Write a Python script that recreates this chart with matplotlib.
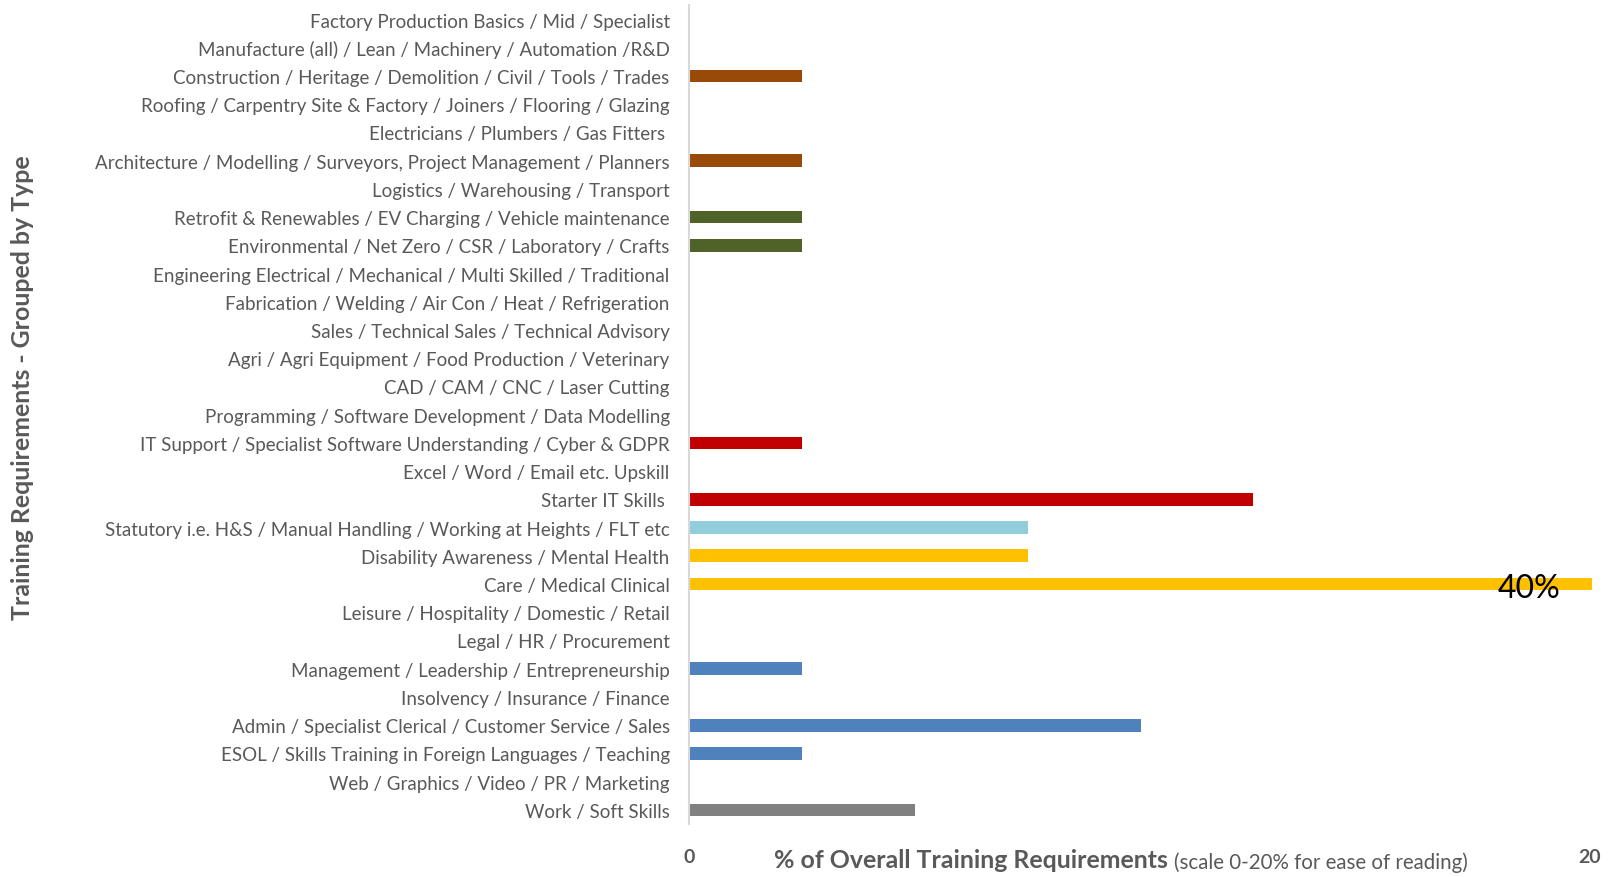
import matplotlib
matplotlib.use("Agg")
import matplotlib.pyplot as plt

categories = [
    "Factory Production Basics / Mid / Specialist",
    "Manufacture (all) / Lean / Machinery / Automation /R&D",
    "Construction / Heritage / Demolition / Civil / Tools / Trades",
    "Roofing / Carpentry Site & Factory / Joiners / Flooring / Glazing",
    "Electricians / Plumbers / Gas Fitters ",
    "Architecture / Modelling / Surveyors, Project Management / Planners",
    "Logistics / Warehousing / Transport",
    "Retrofit & Renewables / EV Charging / Vehicle maintenance",
    "Environmental / Net Zero / CSR / Laboratory / Crafts",
    "Engineering Electrical / Mechanical / Multi Skilled / Traditional",
    "Fabrication / Welding / Air Con / Heat / Refrigeration",
    "Sales / Technical Sales / Technical Advisory",
    "Agri / Agri Equipment / Food Production / Veterinary",
    "CAD / CAM / CNC / Laser Cutting",
    "Programming / Software Development / Data Modelling",
    "IT Support / Specialist Software Understanding / Cyber & GDPR",
    "Excel / Word / Email etc. Upskill",
    "Starter IT Skills ",
    "Statutory i.e. H&S / Manual Handling / Working at Heights / FLT etc",
    "Disability Awareness / Mental Health",
    "Care / Medical Clinical",
    "Leisure / Hospitality / Domestic / Retail",
    "Legal / HR / Procurement",
    "Management / Leadership / Entrepreneurship",
    "Insolvency / Insurance / Finance",
    "Admin / Specialist Clerical / Customer Service / Sales",
    "ESOL / Skills Training in Foreign Languages / Teaching",
    "Web / Graphics / Video / PR / Marketing",
    "Work / Soft Skills",
]
values = [0, 0, 2.5, 0, 0, 2.5, 0, 2.5, 2.5, 0, 0, 0, 0, 0, 0, 2.5, 0,
          12.5, 7.5, 7.5, 40, 0, 0, 2.5, 0, 10, 2.5, 0, 5]
BROWN, GREEN, RED, LBLUE, YELLOW, BLUE, GRAY = (
    "#9A4A08", "#4F6228", "#C00000", "#92CDDC", "#FFC000", "#4F81BD", "#808080")
colors = [BROWN, BROWN, BROWN, BROWN, BROWN, BROWN, GREEN, GREEN, GREEN,
          RED, RED, RED, RED, RED, RED, RED, RED, RED,
          LBLUE, YELLOW, YELLOW, BLUE, BLUE, BLUE, BLUE, BLUE, BLUE, BLUE, GRAY]
xticks = [0, 20]
value_label = "40%"

plt.rcParams['font.family'] = ['Lato', 'DejaVu Sans']

fig = plt.figure(figsize=(16.10, 8.78), dpi=100)
ax = fig.add_axes([0.428, 0.0604, 0.5608, 0.9323])

ypos = list(range(len(categories)))
ax.barh(ypos, values, height=0.45, color=colors)
ax.set_xlim(0, 20)
ax.set_ylim(len(categories) - 0.5, -0.5)
ax.set_yticks(ypos)
ax.set_yticklabels(categories, fontsize=13.5, color="#595959")
ax.tick_params(axis="y", length=0, pad=14)
ax.set_xticks([])

for s in ["top", "right", "bottom"]:
    ax.spines[s].set_visible(False)
ax.spines["left"].set_color("#D9D9D9")
ax.spines["left"].set_linewidth(1.5)

# x tick labels (bold, below)
fig.text(689 / 1610, 1 - 858 / 878, str(xticks[0]), ha="center", va="center",
         fontsize=14, fontweight="bold", color="#595959")
fig.text(1590 / 1610, 1 - 858 / 878, str(xticks[1]), ha="center", va="center",
         fontsize=14, fontweight="bold", color="#595959")

# x axis title
t1 = fig.text(774 / 1610, 1 - 861 / 878, "% of Overall Training Requirements",
              ha="left", va="center", fontsize=17.9, fontweight="bold", color="#595959")
fig.canvas.draw()
bb = t1.get_window_extent()
fig.text(bb.x1 / 1610 + 0.004, 1 - 863 / 878, "(scale 0-20% for ease of reading)",
         ha="left", va="center", fontsize=14.8, color="#595959")

# y axis title
fig.text(23 / 1610, 1 - 388 / 878, "Training Requirements - Grouped by Type",
         rotation=90, ha="center", va="center", fontsize=17.9, fontweight="bold",
         color="#595959")

# data label for clipped bar
care_idx = values.index(max(values))
ax.text(18.6, care_idx + 0.15, value_label, ha="center", va="center",
        fontsize=23, color="black")

fig.savefig("out.png", dpi=100)
